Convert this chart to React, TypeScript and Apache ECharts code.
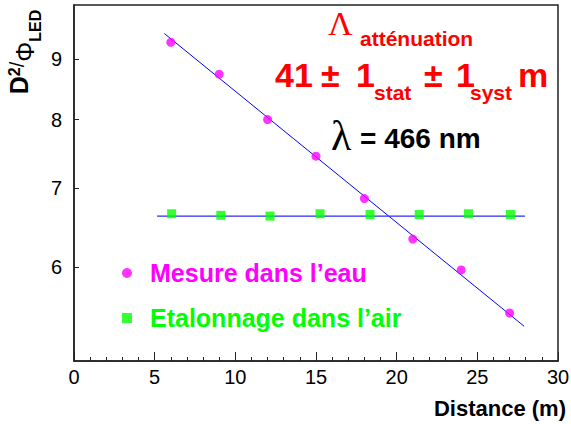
import React, { useEffect, useRef } from 'react';
import * as echarts from 'echarts';

// Measured points: water measurement (D²/Φ vs distance)
const waterDistance = [6, 9, 12, 15, 18, 21, 24, 27];
const waterRatio = [9.3, 8.74, 8.0, 7.45, 6.86, 6.34, 5.97, 5.49];
// Calibration in air
const airDistance = [6.05, 9.1, 12.15, 15.25, 18.35, 21.4, 24.45, 27.05];
const airRatio = [6.66, 6.64, 6.63, 6.66, 6.65, 6.65, 6.66, 6.65];
// Fit lines (end points)
const waterFitX = [5.6, 27.9];
const waterFitY = [9.46, 5.35];
const airFitX = [5.15, 27.95];
const airFitY = [6.63, 6.63];
// Axis ticks
const yTickValues = [6, 7, 8, 9];

const SANS = "'Liberation Sans', Arial, Helvetica, sans-serif";
const SERIF = "'Liberation Serif', 'Times New Roman', serif";
const AXIS = '#222';

export default function App() {
  const ref = useRef<HTMLDivElement>(null);
  useEffect(() => {
    document.body.style.margin = '0';
    if (!ref.current) return;
    const chart = echarts.init(ref.current, null, { renderer: 'svg' });
    const red = '#ff0000';
    const t = (text: string, x: number, y: number, size: number, color: string, opts: any = {}) => ({
      type: 'text',
      x,
      y,
      silent: true,
      style: {
        text,
        fontSize: size,
        fontFamily: opts.family || SANS,
        fontWeight: opts.weight || 'bold',
        fill: color,
        align: opts.align || 'left',
        verticalAlign: 'middle',
      },
    });
    chart.setOption({
      animation: false,
      backgroundColor: '#ffffff',
      grid: {
        left: 74,
        right: 13,
        top: 5,
        bottom: 63,
        show: true,
        borderColor: AXIS,
        borderWidth: 1.5,
        outerBoundsMode: 'none',
      },
      xAxis: {
        type: 'value',
        min: 0,
        max: 30,
        interval: 5,
        name: 'Distance (m)',
        nameLocation: 'end',
        nameGap: 8,
        nameTextStyle: {
          fontFamily: SANS,
          fontWeight: 'bold',
          fontSize: 22,
          color: '#000',
          align: 'right',
          verticalAlign: 'top',
          padding: [36, 0, 0, 0],
        },
        axisLine: { show: true, lineStyle: { color: AXIS, width: 1.5 } },
        axisTick: { show: true, inside: true, length: 9, lineStyle: { color: AXIS, width: 1 } },
        minorTick: { show: true, splitNumber: 5, length: 4, lineStyle: { color: AXIS, width: 1 } },
        axisLabel: { fontFamily: SANS, fontSize: 20, color: '#000', margin: 6 },
        splitLine: { show: false },
      },
      yAxis: {
        type: 'log',
        logBase: 10,
        min: 5,
        max: 10,
        axisLine: { show: true, lineStyle: { color: AXIS, width: 1.5 } },
        axisTick: {
          show: true,
          inside: true,
          length: 5,
          customValues: yTickValues,
          lineStyle: { color: AXIS, width: 1 },
        },
        axisLabel: {
          fontFamily: SANS,
          fontSize: 20,
          color: '#000',
          margin: 12,
          customValues: yTickValues,
          formatter: (v: number) => String(Math.round(v)),
        },
        splitLine: { show: false },
      },
      legend: {
        orient: 'vertical',
        left: 117,
        top: 255,
        itemWidth: 10,
        itemHeight: 10,
        itemGap: 19,
        selectedMode: false,
        textStyle: {
          fontFamily: SANS,
          fontWeight: 'bold',
          fontSize: 25,
          lineHeight: 26,
          padding: [0, 0, 0, 13],
        },
        data: [
          { name: 'Mesure dans l’eau', textStyle: { color: '#ff00ff' } },
          { name: 'Etalonnage dans l’air', textStyle: { color: '#00ff00' } },
        ],
      },
      series: [
        {
          type: 'line',
          name: 'fit eau',
          data: waterFitX.map((x, i) => [x, waterFitY[i]]),
          symbol: 'none',
          lineStyle: { color: '#0000ff', width: 1 },
          silent: true,
          z: 2,
        },
        {
          type: 'line',
          name: 'fit air',
          data: airFitX.map((x, i) => [x, airFitY[i]]),
          symbol: 'none',
          lineStyle: { color: '#2a2aff', width: 1.3 },
          silent: true,
          z: 2,
        },
        {
          type: 'scatter',
          name: 'Mesure dans l’eau',
          data: waterDistance.map((x, i) => [x, waterRatio[i]]),
          symbol: 'circle',
          symbolSize: 9,
          itemStyle: { color: '#ff00ff' },
          z: 3,
        },
        {
          type: 'scatter',
          name: 'Etalonnage dans l’air',
          data: airDistance.map((x, i) => [x, airRatio[i]]),
          symbol: 'rect',
          symbolSize: 9,
          itemStyle: { color: '#00ff00' },
          z: 3,
        },
      ],
      graphic: [
        {
          type: 'text',
          x: 25,
          y: 52,
          rotation: Math.PI / 2,
          silent: true,
          style: {
            text: '{d|D}{sup|2}{sl|/}{phi|Φ}{sub|LED}',
            align: 'center',
            verticalAlign: 'middle',
            fill: '#000',
            rich: {
              d: { fontFamily: SANS, fontWeight: 'bold', fontSize: 25, lineHeight: 27, verticalAlign: 'top', fill: '#000' },
              sup: { fontFamily: SANS, fontWeight: 'bold', fontSize: 16, lineHeight: 16, verticalAlign: 'top', fill: '#000' },
              sl: { fontFamily: SANS, fontSize: 20, lineHeight: 24, verticalAlign: 'top', fill: '#000' },
              phi: { fontFamily: SANS, fontSize: 25, lineHeight: 37, verticalAlign: 'middle', fill: '#000' },
              sub: { fontFamily: SANS, fontWeight: 'bold', fontSize: 16, lineHeight: 16, verticalAlign: 'bottom', fill: '#000' },
            },
          },
        },
        t('Λ', 328, 23, 34, red, { family: SERIF, weight: 'normal' }),
        t('atténuation', 360, 38, 21, red),
        t('41', 275, 75, 34, red),
        t('±', 321, 75, 34, red),
        t('1', 356, 75, 34, red),
        t('stat', 374, 92, 21, red),
        t('±', 424, 75, 34, red),
        t('1', 456, 75, 34, red),
        t('syst', 470, 92, 21, red),
        t('m', 518, 75, 34, red),
        t('λ', 331, 136, 42, '#000', { family: SERIF, weight: 'normal' }),
        t('= 466 nm', 360, 138, 28, '#000'),
      ],
    });
    return () => chart.dispose();
  }, []);
  return <div ref={ref} style={{ width: 571, height: 424 }} />;
}
